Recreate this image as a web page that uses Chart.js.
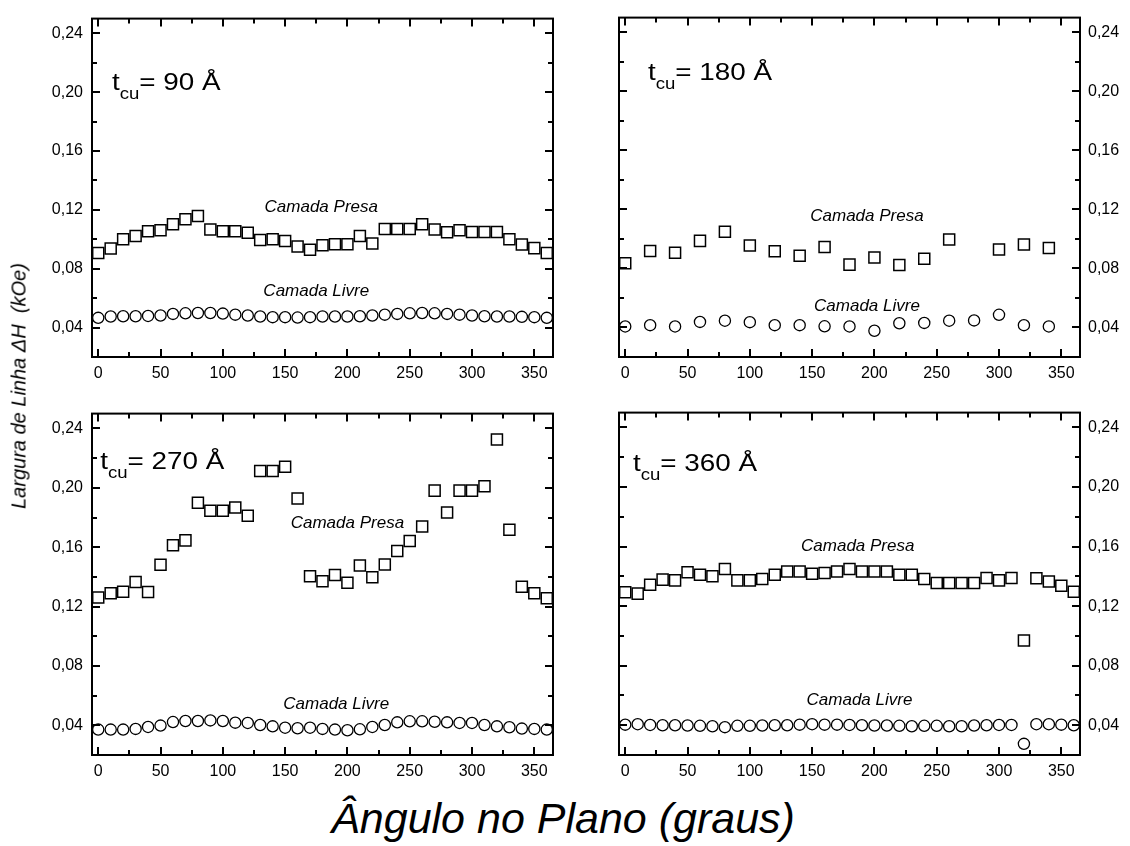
<!DOCTYPE html>
<html>
<head>
<meta charset="utf-8">
<script src="https://cdn.jsdelivr.net/npm/chart.js@4/dist/chart.umd.min.js"></script>
<style>
  html, body { margin: 0; padding: 0; background: #fff; }
  #wrap { position: relative; width: 1130px; height: 846px; overflow: hidden; font-family: "Liberation Sans", Arial, sans-serif; }
  .cv { position: absolute; }
  #ytitle { position: absolute; left: 19px; top: 386px; transform: translate(-50%, -50%) rotate(-90deg); white-space: nowrap; font-style: italic; font-size: 20px; color: #000; }
  #xtitle { position: absolute; left: 563px; top: 818px; transform: translate(-50%, -50%); white-space: nowrap; font-style: italic; font-size: 43px; color: #000; }
</style>
</head>
<body>
<div id="wrap">
  <canvas id="c1" class="cv" style="left:0px;top:0px;"></canvas>
  <canvas id="c2" class="cv" style="left:565px;top:0px;"></canvas>
  <canvas id="c3" class="cv" style="left:0px;top:395px;"></canvas>
  <canvas id="c4" class="cv" style="left:565px;top:395px;"></canvas>
  <div id="ytitle">Largura de Linha <span>&#916;H</span>&nbsp; (kOe)</div>
  <div id="xtitle">Ângulo no Plano (graus)</div>
</div>
<script>
// ---------- data ----------
const angles10 = [0,10,20,30,40,50,60,70,80,90,100,110,120,130,140,150,160,170,180,190,200,210,220,230,240,250,260,270,280,290,300,310,320,330,340,350,360];
const angles20 = [0,20,40,60,80,100,120,140,160,180,200,220,240,260,280,300,320,340];

const presa90 = [0.0907,0.0938,0.1000,0.1022,0.1055,0.1061,0.1103,0.1136,0.1158,0.1066,0.1055,0.1055,0.1044,0.0995,0.1000,0.0988,0.0951,0.0929,0.0960,0.0966,0.0966,0.1022,0.0971,0.1070,0.1070,0.1070,0.1103,0.1066,0.1048,0.1061,0.1050,0.1050,0.1050,0.1000,0.0964,0.0940,0.0907];
const livre90 = [0.0466,0.0475,0.0477,0.0477,0.0479,0.0482,0.0493,0.0497,0.0499,0.0499,0.0495,0.0488,0.0482,0.0475,0.0471,0.0471,0.0468,0.0471,0.0475,0.0475,0.0475,0.0477,0.0482,0.0488,0.0493,0.0497,0.0499,0.0497,0.0493,0.0488,0.0482,0.0477,0.0475,0.0475,0.0473,0.0471,0.0466];

const presa180 = [0.0835,0.0919,0.0906,0.0987,0.1049,0.0956,0.0917,0.0886,0.0946,0.0826,0.0875,0.0824,0.0866,0.0996,null,0.0928,0.0963,0.0939];
const livre180 = [0.0407,0.0416,0.0407,0.0438,0.0446,0.0436,0.0416,0.0416,0.0408,0.0407,0.0378,0.0429,0.0431,0.0446,0.0448,0.0486,0.0416,0.0407];

const presa270 = [0.1261,0.1289,0.1300,0.1366,0.1298,0.1481,0.1613,0.1646,0.1900,0.1845,0.1845,0.1867,0.1812,0.2113,0.2113,0.2142,0.1928,0.1404,0.1371,0.1413,0.1360,0.1477,0.1397,0.1483,0.1574,0.1642,0.1739,0.1981,0.1834,0.1981,0.1981,0.2010,0.2325,0.1717,0.1333,0.1289,0.1256];
const livre270 = [0.0371,0.0371,0.0371,0.0376,0.0389,0.0398,0.0422,0.0429,0.0429,0.0433,0.0429,0.0418,0.0416,0.0402,0.0393,0.0384,0.0380,0.0384,0.0376,0.0371,0.0367,0.0373,0.0389,0.0402,0.0420,0.0427,0.0427,0.0424,0.0420,0.0416,0.0416,0.0402,0.0393,0.0387,0.0378,0.0376,0.0371];

const presa360 = [0.1293,0.1284,0.1344,0.1378,0.1373,0.1427,0.1411,0.1400,0.1449,0.1373,0.1373,0.1382,0.1411,0.1433,0.1433,0.1418,0.1422,0.1433,0.1449,0.1433,0.1433,0.1433,0.1411,0.1411,0.1382,0.1356,0.1356,0.1356,0.1356,0.1389,0.1373,0.1389,0.0969,0.1387,0.1365,0.1337,0.1297];
const livre360 = [0.0404,0.0407,0.0402,0.0400,0.0400,0.0398,0.0396,0.0393,0.0387,0.0396,0.0396,0.0398,0.0400,0.0400,0.0404,0.0407,0.0404,0.0404,0.0402,0.0400,0.0398,0.0398,0.0396,0.0393,0.0396,0.0396,0.0393,0.0393,0.0398,0.0400,0.0402,0.0402,0.0275,0.0407,0.0407,0.0404,0.0400];

const xTickLabels = [0,50,100,150,200,250,300,350];
const yTickLabels = [0.04,0.08,0.12,0.16,0.20,0.24];
const xMinor = [25,75,125,175,225,275,325];
const yMinor = [0.06,0.10,0.14,0.18,0.22];

// ---------- helpers ----------
const FONT = '"Liberation Sans", Arial, sans-serif';
function pts(xs, ys) { return xs.map((x, i) => ({ x: x, y: ys[i] })); }

const framePlugin = {
  id: 'frame',
  afterDatasetsDraw(chart) {
    const { ctx, chartArea: a, scales } = chart;
    const xs = scales.x, ys = scales.y;
    ctx.save();
    ctx.strokeStyle = '#000';
    ctx.lineWidth = 2;
    ctx.beginPath();
    const tick = (v, len, horiz) => {
      if (horiz) {
        const px = Math.round(xs.getPixelForValue(v));
        ctx.moveTo(px, a.bottom); ctx.lineTo(px, a.bottom - len);
        ctx.moveTo(px, a.top); ctx.lineTo(px, a.top + len);
      } else {
        const py = Math.round(ys.getPixelForValue(v));
        ctx.moveTo(a.left, py); ctx.lineTo(a.left + len, py);
        ctx.moveTo(a.right, py); ctx.lineTo(a.right - len, py);
      }
    };
    xTickLabels.forEach(v => tick(v, 8, true));
    xMinor.forEach(v => tick(v, 5, true));
    yTickLabels.forEach(v => tick(v, 8, false));
    yMinor.forEach(v => tick(v, 5, false));
    ctx.stroke();
    ctx.strokeRect(a.left, a.top, a.right - a.left, a.bottom - a.top);
    ctx.restore();

    // annotations
    const ann = chart.options.plugins.frame;
    ctx.save();
    ctx.fillStyle = '#000';
    ctx.textBaseline = 'alphabetic';
    ctx.textAlign = 'left';
    // t_cu label (slightly wide lettering as in the original)
    const x0 = xs.getPixelForValue(ann.t[0]);
    const y0 = ys.getPixelForValue(ann.t[1]);
    ctx.translate(x0, y0);
    ctx.scale(1.16, 1);
    let x = 0;
    ctx.font = '24px ' + FONT;
    ctx.fillText('t', x, 0);
    x += ctx.measureText('t').width;
    ctx.font = '16px ' + FONT;
    ctx.fillText('cu', x, 9);
    x += ctx.measureText('cu').width;
    ctx.font = '24px ' + FONT;
    ctx.fillText('= ' + ann.t[2] + ' Å', x, 0);
    ctx.restore();
    // Camada labels
    ctx.save();
    ctx.fillStyle = '#000';
    ctx.font = 'italic 17px ' + FONT;
    ctx.textAlign = 'center';
    ctx.textBaseline = 'middle';
    ctx.fillText('Camada Presa', xs.getPixelForValue(ann.presa[0]), ys.getPixelForValue(ann.presa[1]));
    ctx.fillText('Camada Livre', xs.getPixelForValue(ann.livre[0]), ys.getPixelForValue(ann.livre[1]));
    ctx.restore();
  }
};

function makeChart(id, side, top, angles, presa, livre, ann) {
  const W = 565, H = 395;
  const cv = document.getElementById(id);
  cv.width = W; cv.height = H;
  cv.style.width = W + 'px'; cv.style.height = H + 'px';
  const padTop = top ? 10 : 12;
  const bottomPx = top ? 357 : 360;
  const fmt = v => v.toFixed(2).replace('.', ',');
  return new Chart(cv, {
    type: 'scatter',
    data: {
      datasets: [
        { data: pts(angles, presa), pointStyle: 'rect', pointRadius: 7.8, pointHoverRadius: 7.8,
          backgroundColor: 'rgba(0,0,0,0)', borderColor: '#000', borderWidth: 1.5, showLine: false },
        { data: pts(angles, livre), pointStyle: 'circle', pointRadius: 5.6, pointHoverRadius: 5.6,
          backgroundColor: 'rgba(0,0,0,0)', borderColor: '#000', borderWidth: 1.3, showLine: false }
      ]
    },
    options: {
      responsive: false,
      animation: false,
      devicePixelRatio: 1,
      events: [],
      layout: { padding: { top: padTop, left: side === 'left' ? 0 : 54, right: side === 'left' ? 12 : 0, bottom: 0 } },
      plugins: { legend: { display: false }, tooltip: { enabled: false }, frame: ann },
      scales: {
        x: {
          type: 'linear', min: -5, max: 365, position: 'bottom',
          grid: { display: false, drawTicks: false },
          border: { display: false },
          afterBuildTicks: s => { s.ticks = xTickLabels.map(v => ({ value: v })); },
          afterFit: s => { s.height = H - bottomPx; },
          ticks: { color: '#000', font: { size: 16, family: FONT }, padding: 7, maxRotation: 0, autoSkip: false,
                   callback: v => String(v) }
        },
        y: {
          type: 'linear', min: 0.02, max: 0.25, position: side,
          grid: { display: false, drawTicks: false },
          border: { display: false },
          afterBuildTicks: s => { s.ticks = yTickLabels.map(v => ({ value: v })); },
          afterFit: s => { s.width = side === 'left' ? 92 : 50; },
          ticks: { color: '#000', font: { size: 16, family: FONT }, padding: side === 'left' ? 9 : 8, autoSkip: false,
                   callback: v => fmt(v) }
        }
      }
    },
    plugins: [framePlugin]
  });
}

makeChart('c1', 'left', true, angles10, presa90, livre90,
  { t: [11, 0.2013, '90'], presa: [179, 0.122], livre: [175, 0.0646] });
makeChart('c2', 'right', true, angles20, presa180, livre180,
  { t: [18.3, 0.2079, '180'], presa: [194, 0.1155], livre: [194, 0.0541] });
makeChart('c3', 'left', false, angles10, presa270, livre270,
  { t: [1.6, 0.2125, '270'], presa: [200, 0.176], livre: [191, 0.054] });
makeChart('c4', 'right', false, angles10, presa360, livre360,
  { t: [6.2, 0.211, '360'], presa: [186.6, 0.160], livre: [188, 0.0567] });
</script>
</body>
</html>
